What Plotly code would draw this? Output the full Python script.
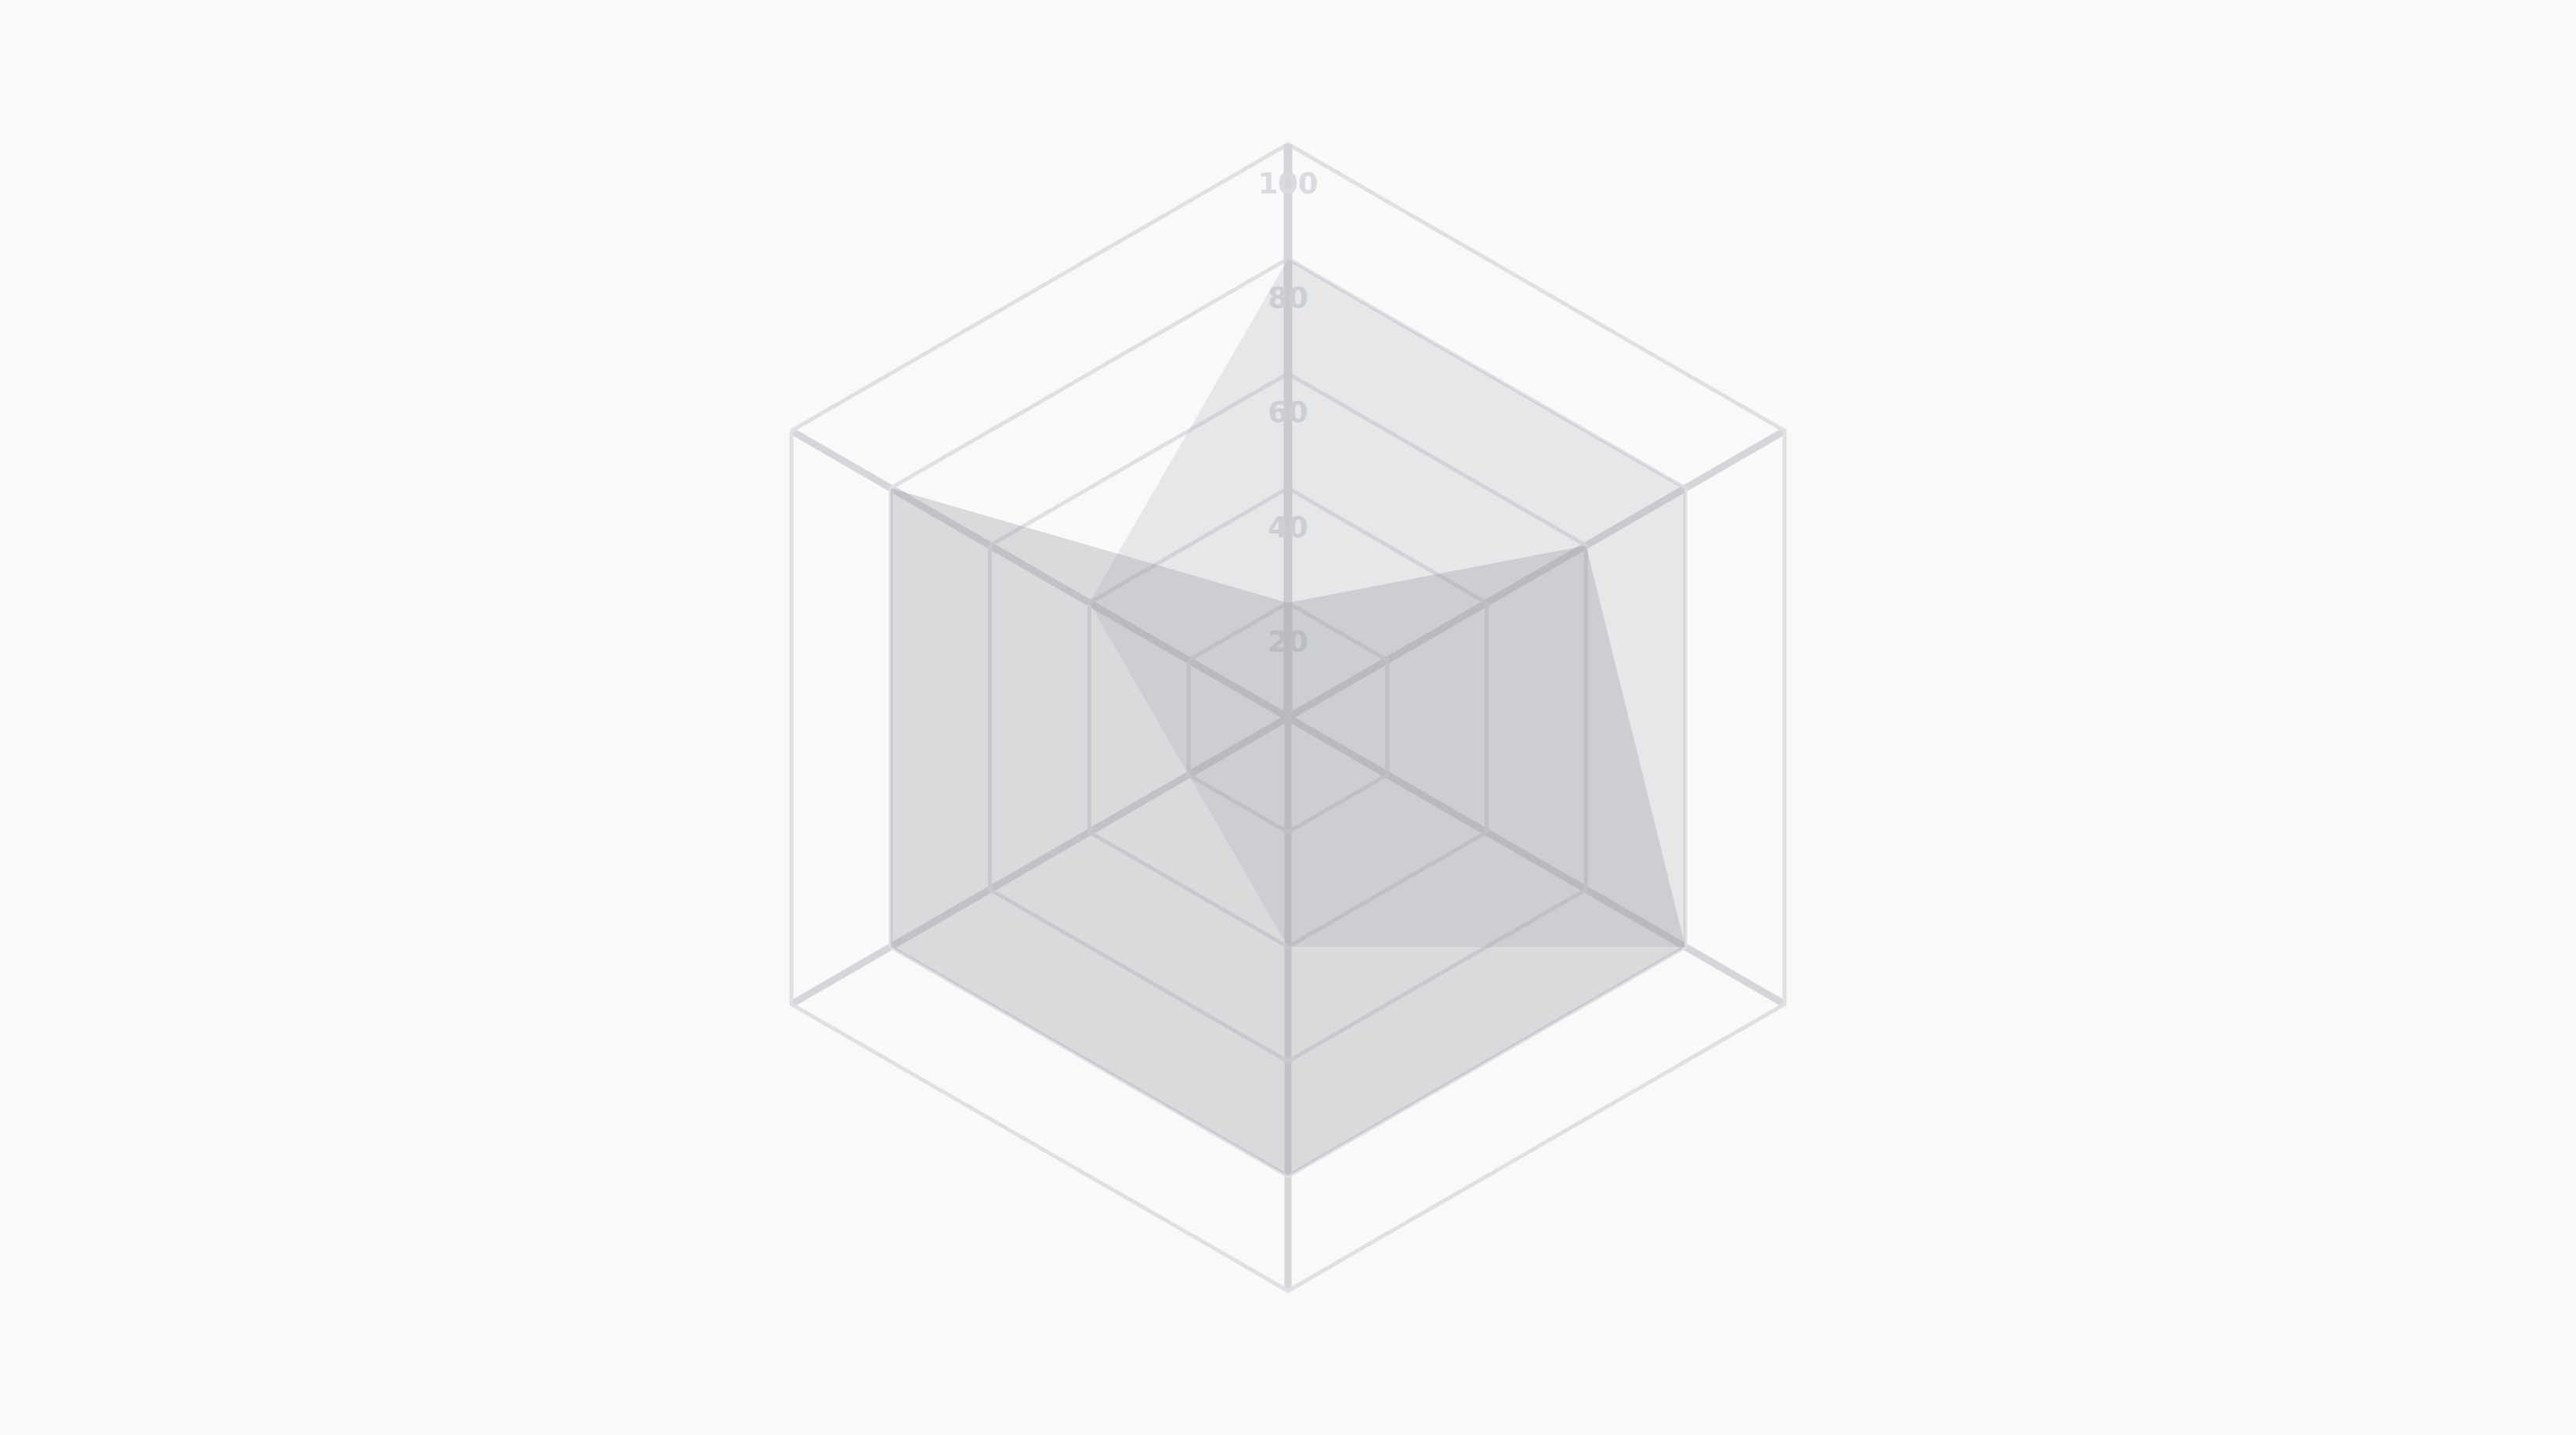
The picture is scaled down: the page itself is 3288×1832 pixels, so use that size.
import plotly.graph_objects as go

# radar data, clockwise from the top spoke
categories = ["A", "B", "C", "D", "E", "F"]
series_a = [80, 80, 80, 40, 20, 40]
series_b = [20, 60, 80, 80, 80, 80]
radial_ticks = [20, 40, 60, 80, 100]
tick_labels = ["20", "40", "60", "80", "100"]

BG = "#f9f9fa"
RING = "#dfe0e3"
SPOKE = "#d5d6d9"

def closed(vals):
    return vals + vals[:1]

fig = go.Figure()

# radial tick labels sit on the top spoke, under the fills
fig.add_trace(go.Scatterpolar(
    r=radial_ticks,
    theta=[categories[0]] * len(radial_ticks),
    mode="markers+text",
    text=tick_labels,
    textposition="bottom center",
    textfont=dict(family="DejaVu Sans", size=37, color="#dadbdf", weight="bold"),
    marker=dict(size=54, opacity=0),
    hoverinfo="skip",
))

fig.add_trace(go.Scatterpolar(
    r=closed(series_a),
    theta=closed(categories),
    fill="toself",
    fillcolor="rgba(150,152,160,0.19)",
    line=dict(width=0, color="rgba(0,0,0,0)"),
    mode="lines",
    hoverinfo="skip",
))

fig.add_trace(go.Scatterpolar(
    r=closed(series_b),
    theta=closed(categories),
    fill="toself",
    fillcolor="rgba(150,152,160,0.32)",
    line=dict(width=0, color="rgba(0,0,0,0)"),
    mode="lines",
    hoverinfo="skip",
))

fig.update_layout(
    width=3288,
    height=1832,
    paper_bgcolor=BG,
    plot_bgcolor=BG,
    showlegend=False,
    margin=dict(l=0, r=0, t=184, b=184),
    polar=dict(
        bgcolor=BG,
        gridshape="linear",
        radialaxis=dict(
            range=[0, 100],
            tickvals=radial_ticks,
            angle=90,
            showticklabels=False,
            showline=True,
            linecolor=SPOKE,
            linewidth=11,
            gridcolor=RING,
            gridwidth=5,
            ticks="",
            layer="below traces",
        ),
        angularaxis=dict(
            rotation=90,
            direction="clockwise",
            showticklabels=False,
            ticks="",
            showline=True,
            linecolor=RING,
            linewidth=5,
            gridcolor=SPOKE,
            gridwidth=9,
            layer="below traces",
        ),
    ),
)

fig.write_html(
    "out.html",
    config={"displayModeBar": False},
    post_script=f"document.body.style.margin='0';document.body.style.background='{BG}';",
)
